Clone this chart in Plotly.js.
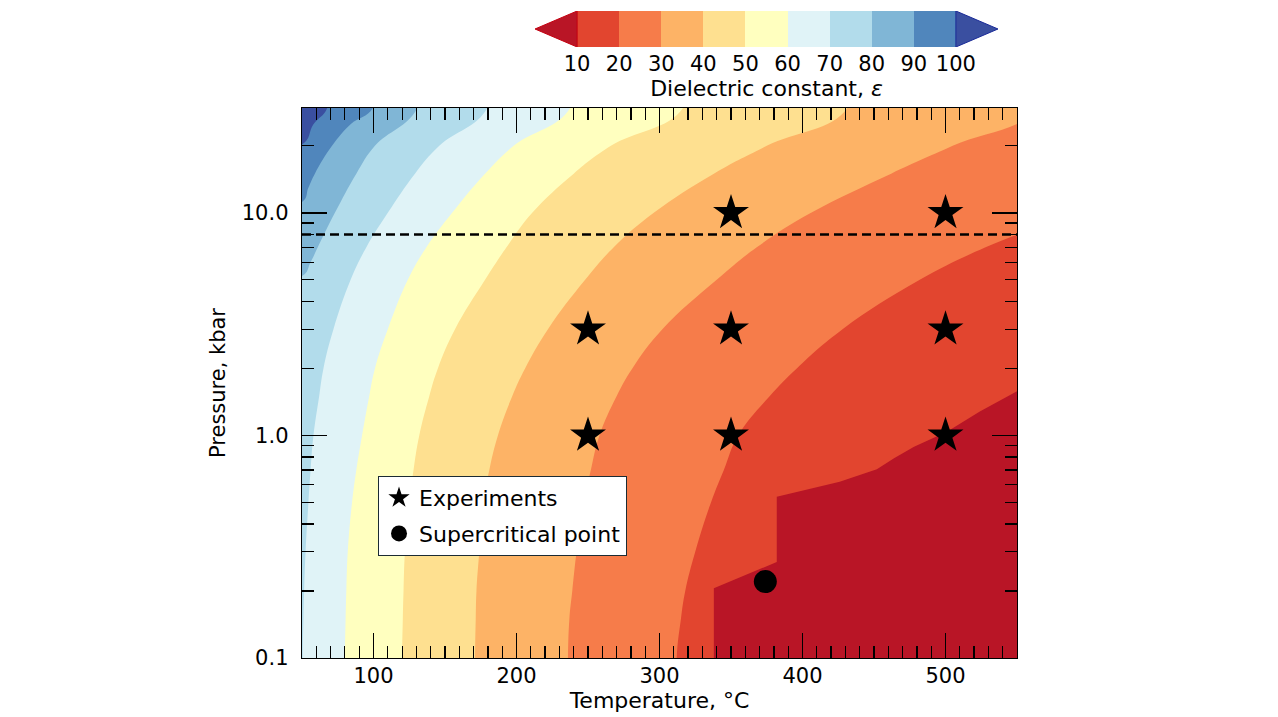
<!DOCTYPE html>
<html>
<head>
<meta charset="utf-8">
<script src="https://cdn.plot.ly/plotly-3.0.1.min.js"></script>
<style>
  html, body { margin: 0; padding: 0; background: #ffffff; }
  #chart { width: 1278px; height: 717px; }
</style>
</head>
<body>
<div id="chart"></div>
<script>
// ---------------- data ----------------
// contour levels of the dielectric constant
const LEVELS = [10, 20, 30, 40, 50, 60, 70, 80, 90, 100];
const LEVEL_LABELS = ['10', '20', '30', '40', '50', '60', '70', '80', '90', '100'];

// band colours: below 10, the nine bands 10-20 ... 90-100, above 100
const COLOR_UNDER = '#b91526';
const BAND_COLORS = ['#e2452f', '#f67c4a', '#fdb366', '#fee090', '#ffffbf',
                     '#e0f3f7', '#b2dceb', '#80b6d6', '#5086bc'];
const COLOR_OVER = '#3a4fa0';

// iso-lines: temperature (°C) where epsilon equals the level, at each pressure (kbar)
const P_GRID = [0.1, 0.15, 0.2, 0.3, 0.5, 0.7, 1, 1.5, 2, 3, 5, 7, 10, 15, 20, 30];
const T_EPS20 = [312, 315, 318, 325, 336, 345, 355, 377, 396, 428, 482, 528, 590, 650, 700, 800];
const T_EPS30 = [236, 237, 239, 242, 247, 252, 258, 270, 281, 302, 340, 368, 406, 462, 505, 565];
const T_EPS40 = [171, 171.5, 172, 174, 177, 181, 187, 197, 206, 222, 248, 268, 296, 338, 375, 432];
const T_EPS50 = [120, 120.5, 121, 122, 125, 128, 132, 139, 145, 157, 178, 193, 211, 240, 266, 317];
const T_EPS60 = [80, 80.5, 81, 82, 85, 88, 92, 97, 101, 110, 124, 137, 155, 178, 198, 238];
const T_EPS70 = [50.5, 51, 51.5, 52.5, 54.5, 56, 58, 62, 65, 72, 84, 95, 110, 129, 146, 180];

const P_EPS10 = [0.1, 0.206, 0.27, 0.53, 0.62, 0.705, 0.79, 0.89, 1.04, 1.28, 1.58, 1.7];
const T_EPS10 = [338, 338, 382, 382, 426, 452, 464, 478, 501, 524, 550, 560];

const P_EPS80 = [5.2, 6, 7, 10, 15, 20, 30];
const T_EPS80 = [50, 56, 61, 73, 88, 101, 131];

const P_EPS90 = [11.2, 13, 15, 20, 25, 30];
const T_EPS90 = [50, 54.5, 59, 71, 84, 100];

const P_EPS100 = [20.3, 25, 30];
const T_EPS100 = [50, 58, 68];

// experiments and the critical point of water
const EXP_T = [250, 250, 350, 350, 350, 500, 500, 500];
const EXP_P = [1, 3, 1, 3, 10, 1, 3, 10];
const CRIT_T = [374];
const CRIT_P = [0.2206];

// dashed reference pressure (kbar)
const REF_P = 8;

// axis ranges
const T_RANGE = [50, 550];
const P_RANGE = [0.1, 29.6];

// x and y tick labels
const X_TICKS = [100, 200, 300, 400, 500];
const Y_TICKS = [0.1, 1, 10];
const Y_TICK_TEXT = ['0.1', '1.0', '10.0'];
const Y_MINOR = [0.2, 0.3, 0.4, 0.5, 0.6, 0.7, 0.8, 0.9, 2, 3, 4, 5, 6, 7, 8, 9, 20];

// ---------------- build the chart ----------------
const FONT = 'DejaVu Sans, Verdana, sans-serif';
const curves = [
  {T: T_EPS10, P: P_EPS10, smooth: false},
  {T: T_EPS20, P: P_GRID, smooth: true},
  {T: T_EPS30, P: P_GRID, smooth: true},
  {T: T_EPS40, P: P_GRID, smooth: true},
  {T: T_EPS50, P: P_GRID, smooth: true},
  {T: T_EPS60, P: P_GRID, smooth: true},
  {T: T_EPS70, P: P_GRID, smooth: true},
  {T: T_EPS80, P: P_EPS80, smooth: true},
  {T: T_EPS90, P: P_EPS90, smooth: true},
  {T: T_EPS100, P: P_EPS100, smooth: true}
];
const fillColors = BAND_COLORS.concat([COLOR_OVER]);

// each polygon: region where epsilon >= level (left of / above the iso-line);
// later levels are drawn over earlier ones
const T_OUT_LEFT = T_RANGE[0] - 60;
const P_OUT_TOP = P_RANGE[1] * 2;
const P_OUT_BOTTOM = P_RANGE[0] / 2;
const traces = [];
curves.forEach((c, i) => {
  const n = c.T.length;
  const startsAtBottom = c.P[0] <= P_RANGE[0];
  const head = startsAtBottom ? {x: [c.T[0]], y: [P_OUT_BOTTOM]} : {x: [T_OUT_LEFT], y: [c.P[0]]};
  const tail = startsAtBottom
    ? {x: [c.T[n - 1], T_OUT_LEFT, T_OUT_LEFT], y: [P_OUT_TOP, P_OUT_TOP, P_OUT_BOTTOM]}
    : {x: [c.T[n - 1], T_OUT_LEFT], y: [P_OUT_TOP, P_OUT_TOP]};
  traces.push({
    type: 'scatter', mode: 'lines', xaxis: 'x', yaxis: 'y',
    x: head.x.concat(c.T, tail.x),
    y: head.y.concat(c.P, tail.y),
    fill: 'toself', fillcolor: fillColors[i],
    line: {width: 0, color: fillColors[i], shape: c.smooth ? 'spline' : 'linear', smoothing: 1.2},
    hoverinfo: 'skip', showlegend: false
  });
});

// dashed reference line
traces.push({
  type: 'scatter', mode: 'lines', xaxis: 'x', yaxis: 'y',
  x: T_RANGE, y: [REF_P, REF_P],
  line: {color: '#000000', width: 2.6, dash: '9px,5px'},
  hoverinfo: 'skip', showlegend: false
});

// experiments
traces.push({
  type: 'scatter', mode: 'markers', xaxis: 'x', yaxis: 'y',
  x: EXP_T, y: EXP_P, name: 'Experiments',
  legendgroup: 'a',
  marker: {symbol: 'star', size: 27, color: '#000000', line: {width: 0}},
  hoverinfo: 'skip'
});
// supercritical point
traces.push({
  type: 'scatter', mode: 'markers', xaxis: 'x', yaxis: 'y',
  x: CRIT_T, y: CRIT_P, name: 'Supercritical point',
  legendgroup: 'b',
  marker: {symbol: 'circle', size: 23, color: '#000000', line: {width: 0}},
  hoverinfo: 'skip'
});

// ---- colour bar (second subplot) ----
const step = LEVELS[1] - LEVELS[0];
const mids = [];
for (let i = 0; i < LEVELS.length - 1; i++) mids.push((LEVELS[i] + LEVELS[i + 1]) / 2);
traces.push({
  type: 'bar', xaxis: 'x2', yaxis: 'y2',
  x: mids, y: mids.map(() => 1), base: 0, width: step,
  marker: {color: BAND_COLORS, line: {width: 0}},
  hoverinfo: 'skip', showlegend: false
});
const lo = LEVELS[0], hi = LEVELS[LEVELS.length - 1];
traces.push({
  type: 'scatter', mode: 'lines', xaxis: 'x2', yaxis: 'y2',
  x: [lo, lo - step, lo, lo], y: [0, 0.5, 1, 0],
  fill: 'toself', fillcolor: COLOR_UNDER, line: {color: '#c40010', width: 1},
  hoverinfo: 'skip', showlegend: false
});
traces.push({
  type: 'scatter', mode: 'lines', xaxis: 'x2', yaxis: 'y2',
  x: [hi, hi + step, hi, hi], y: [0, 0.5, 1, 0],
  fill: 'toself', fillcolor: COLOR_OVER, line: {color: '#1a2a98', width: 1},
  hoverinfo: 'skip', showlegend: false
});

const layout = {
  width: 1278, height: 717,
  margin: {l: 302, r: 261, t: 5, b: 59, pad: 0},
  paper_bgcolor: '#ffffff', plot_bgcolor: 'rgba(0,0,0,0)',
  font: {family: FONT, size: 21, color: '#000000'},
  bargap: 0,
  showlegend: true,
  legend: {
    x: 0.1063, y: 0.2787, xanchor: 'left', yanchor: 'top',
    bgcolor: '#ffffff', bordercolor: '#1b2b33', borderwidth: 1,
    font: {family: FONT, size: 22, color: '#000000'},
    traceorder: 'grouped', tracegroupgap: 4, itemwidth: 30
  },
  shapes: [{
    type: 'rect', xref: 'x domain', yref: 'y domain', x0: 0, x1: 1, y0: 0, y1: 1,
    fillcolor: COLOR_UNDER, line: {width: 0}, layer: 'below'
  }],
  xaxis: {
    domain: [0, 1], anchor: 'y', range: T_RANGE,
    tickmode: 'array', tickvals: X_TICKS,
    ticks: 'inside', ticklen: 25, tickwidth: 1.3, tickcolor: '#000000',
    minor: {ticks: 'inside', tickmode: 'linear', dtick: 10, tick0: 0, ticklen: 12, tickwidth: 1.2, tickcolor: '#000000', showgrid: false},
    showline: true, linecolor: '#000000', linewidth: 1.3, mirror: 'ticks',
    showgrid: false, zeroline: false,
    tickfont: {family: FONT, size: 21, color: '#000000'},
    ticklabelstandoff: -2,
    title: {text: 'Temperature, °C', font: {family: FONT, size: 22, color: '#000000'}, standoff: 0}
  },
  yaxis: {
    domain: [0, 0.8423], anchor: 'x', type: 'log',
    range: [Math.log10(P_RANGE[0]), Math.log10(P_RANGE[1])],
    tickmode: 'array', tickvals: Y_TICKS, ticktext: Y_TICK_TEXT,
    ticks: 'inside', ticklen: 25, tickwidth: 1.3, tickcolor: '#000000',
    minor: {ticks: 'inside', tickmode: 'array', tickvals: Y_MINOR, ticklen: 12, tickwidth: 1.2, tickcolor: '#000000', showgrid: false},
    showline: true, linecolor: '#000000', linewidth: 1.3, mirror: 'ticks',
    showgrid: false, zeroline: false,
    tickfont: {family: FONT, size: 21, color: '#000000'},
    ticklabelstandoff: 8,
    title: {text: 'Pressure, kbar', font: {family: FONT, size: 21, color: '#000000'}, standoff: 10}
  },
  xaxis2: {
    domain: [0.3259, 0.9734], anchor: 'y2', range: [lo - step, hi + step],
    tickmode: 'array', tickvals: LEVELS, ticktext: LEVEL_LABELS,
    ticks: '', showline: false, showgrid: false, zeroline: false, fixedrange: true,
    tickfont: {family: FONT, size: 21, color: '#000000'},
    ticklabelstandoff: 2,
    title: {text: 'Dielectric constant, <i>ε</i>', font: {family: FONT, size: 22, color: '#000000'}, standoff: 0}
  },
  yaxis2: {
    domain: [0.9357, 0.9908], anchor: 'x2', range: [0, 1], visible: false, fixedrange: true
  }
};

Plotly.newPlot('chart', traces, layout, {displayModeBar: false, staticPlot: true});
</script>
</body>
</html>
